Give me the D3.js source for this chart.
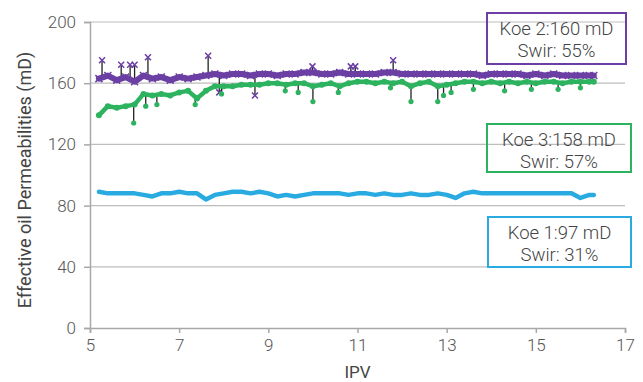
<!DOCTYPE html>
<html><head><meta charset="utf-8">
<script src="https://cdn.jsdelivr.net/npm/d3@7"></script>
<style>
body{margin:0;background:#fff;}
text{font-family:Roboto,"DejaVu Sans",sans-serif;}
</style></head>
<body><svg id="c" width="643" height="382"></svg>
<script>
const ipv = [5.2,5.4,5.6,5.8,6.0,6.2,6.4,6.6,6.8,7.0,7.2,7.4,7.6,7.8,8.0,8.2,8.4,8.6,8.8,9.0,9.2,9.4,9.6,9.8,10.0,10.2,10.4,10.6,10.8,11.0,11.2,11.4,11.6,11.8,12.0,12.2,12.4,12.6,12.8,13.0,13.2,13.4,13.6,13.8,14.0,14.2,14.4,14.6,14.8,15.0,15.2,15.4,15.6,15.8,16.0,16.2,16.3];
const koe2 = [163,165,162,164,161,165,163,164,162,164,163,164,165,166,165,166,166,165,166,166,165,166,166,167,167,166,166,167,166,166,166,166,167,167,166,166,166,166,166,166,166,166,166,165,166,166,166,166,165,166,165,166,165,165,165,165,165];
const koe3 = [139,145,144,145,146,153,152,153,152,154,155,150,155,158,158,158,159,159,159,160,160,159,160,160,158,159,160,158,160,161,161,160,161,160,161,158,160,161,158,159,160,161,161,160,161,160,161,160,161,160,161,161,160,161,161,161,161];
const koe1 = [89,88,88,88,88,87,86,88,88,89,88,88,84,87,88,89,89,88,89,88,86,87,86,87,88,88,88,88,87,88,88,87,88,87,87,88,87,87,88,87,85,88,89,88,88,88,88,88,88,88,88,88,88,88,85,87,87];
// spikes: [ipv, tip value]
const koe2Spikes = [[5.27,175],[5.7,172],[5.9,172],[6.0,172],[6.3,177],[7.65,178],[7.9,154],[8.7,152],[9.99,171],[10.85,171],[10.95,171],[11.8,175]];
const koe3Spikes = [[5.98,134],[6.25,145],[6.5,146],[7.36,146],[7.95,153],[9.38,155],[9.67,154],[10.0,148],[10.57,154],[11.74,157],[12.2,148],[12.8,148],[12.93,152],[13.1,154],[13.6,156],[14.3,155],[14.9,156],[15.5,156],[16.0,157]];
const yTicks = [0,40,80,120,160,200];
const xTicks = [5,7,9,11,13,15,17];
const labels = [
  {l1:"Koe 2:160 mD", l2:"Swir: 55%", color:"#6b3fa3"},
  {l1:"Koe 3:158 mD", l2:"Swir: 57%", color:"#2db35f"},
  {l1:"Koe 1:97 mD", l2:"Swir: 31%", color:"#29abe2"}
];

const svg = d3.select("#c");
const m = {l:90, r:18, t:22, b:54};
const W = 643, H = 382;
const x = d3.scaleLinear().domain([5,17]).range([m.l, W-m.r]);
const y = d3.scaleLinear().domain([0,200]).range([H-m.b, m.t]);

// gridlines
svg.append("g").selectAll("line").data(yTicks.filter(d=>d>0)).join("line")
  .attr("x1", m.l).attr("x2", W-m.r).attr("y1", d=>y(d)).attr("y2", d=>y(d))
  .attr("stroke","#bdbdbd").attr("stroke-width",1.2);

const ya = svg.append("g").attr("transform",`translate(${m.l},0)`)
  .call(d3.axisLeft(y).tickValues(yTicks).tickSize(6).tickPadding(8));
const xa = svg.append("g").attr("transform",`translate(0,${H-m.b})`)
  .call(d3.axisBottom(x).tickValues(xTicks).tickSize(5).tickPadding(6));
[ya,xa].forEach(a=>{
  a.selectAll("path,line").attr("stroke","#a8a8a8").attr("stroke-width",1.5);
  a.selectAll("text").attr("fill","#555").attr("font-size",17).attr("font-weight",300);
});

const line = d3.line().x((d,i)=>x(ipv[i])).y(d=>y(d)).curve(d3.curveLinear);
function interp(arr, v){
  for(let i=0;i<ipv.length-1;i++){
    if(v>=ipv[i] && v<=ipv[i+1]){const t=(v-ipv[i])/(ipv[i+1]-ipv[i]);return arr[i]+(arr[i+1]-arr[i])*t;}
  }
  return arr[arr.length-1];
}
function xPath(cx,cy,s){return `M${cx-s},${cy-s}L${cx+s},${cy+s}M${cx-s},${cy+s}L${cx+s},${cy-s}`;}

function series(arr, color, width, spikes, marker){
  const g = svg.append("g");
  if(spikes){
    g.selectAll("line").data(spikes).join("line")
      .attr("x1",d=>x(d[0])).attr("x2",d=>x(d[0]))
      .attr("y1",d=>y(interp(arr,d[0]))).attr("y2",d=>y(d[1]))
      .attr("stroke","#222").attr("stroke-width",1.3);
  }
  g.append("path").datum(arr).attr("d",line).attr("fill","none")
    .attr("stroke",color).attr("stroke-width",width).attr("stroke-linejoin","round").attr("stroke-linecap","round");
  // markers on every point
  if(marker==="x"){
    g.selectAll("path.pm").data(arr).join("path").attr("class","pm")
      .attr("d",(d,i)=>xPath(x(ipv[i]),y(d),3.5)).attr("stroke",color).attr("stroke-width",1.5);
  } else if(marker==="o"){
    g.selectAll("circle.pm").data(arr).join("circle").attr("class","pm")
      .attr("cx",(d,i)=>x(ipv[i])).attr("cy",d=>y(d)).attr("r",3).attr("fill",color);
  }
  if(spikes){
    if(marker==="x"){
      g.selectAll("path.mk").data(spikes).join("path").attr("class","mk")
        .attr("d",d=>xPath(x(d[0]),y(d[1]),3))
        .attr("stroke",color).attr("stroke-width",1.5);
    } else {
      g.selectAll("circle.mk").data(spikes).join("circle").attr("class","mk")
        .attr("cx",d=>x(d[0])).attr("cy",d=>y(d[1])).attr("r",2.6).attr("fill",color);
    }
  }
}
series(koe1, "#29abe2", 4.5, null, null);
series(koe2, "#6b3fa3", 6, koe2Spikes, "x");
series(koe3, "#2db35f", 4.5, koe3Spikes, "o");

// label boxes
const boxes = [
  {x0:487,y0:13,x1:626,y1:64},
  {x0:487,y0:124,x1:631,y1:172},
  {x0:488,y0:217,x1:631,y1:267}
];
labels.forEach((lb,i)=>{
  const b = boxes[i];
  svg.append("rect").attr("x",b.x0).attr("y",b.y0).attr("width",b.x1-b.x0).attr("height",b.y1-b.y0)
    .attr("fill","none").attr("stroke",lb.color).attr("stroke-width",2);
  const cx=(b.x0+b.x1)/2;
  svg.append("text").attr("x",cx).attr("y",b.y0+22).attr("text-anchor","middle")
    .attr("font-size",18.5).attr("font-weight",300).attr("fill","#444").text(lb.l1);
  svg.append("text").attr("x",cx).attr("y",b.y0+44).attr("text-anchor","middle")
    .attr("font-size",18.5).attr("font-weight",300).attr("fill","#444").text(lb.l2);
});

// axis titles
svg.append("text").attr("transform",`translate(31,${(m.t+H-m.b)/2+5}) rotate(-90)`)
  .attr("text-anchor","middle").attr("font-size",18).attr("fill","#444").text("Effective oil Permeabilities (mD)");
svg.append("text").attr("x",x(11)).attr("y",378).attr("text-anchor","middle")
  .attr("font-size",17).attr("fill","#444").text("IPV");
</script></body></html>
